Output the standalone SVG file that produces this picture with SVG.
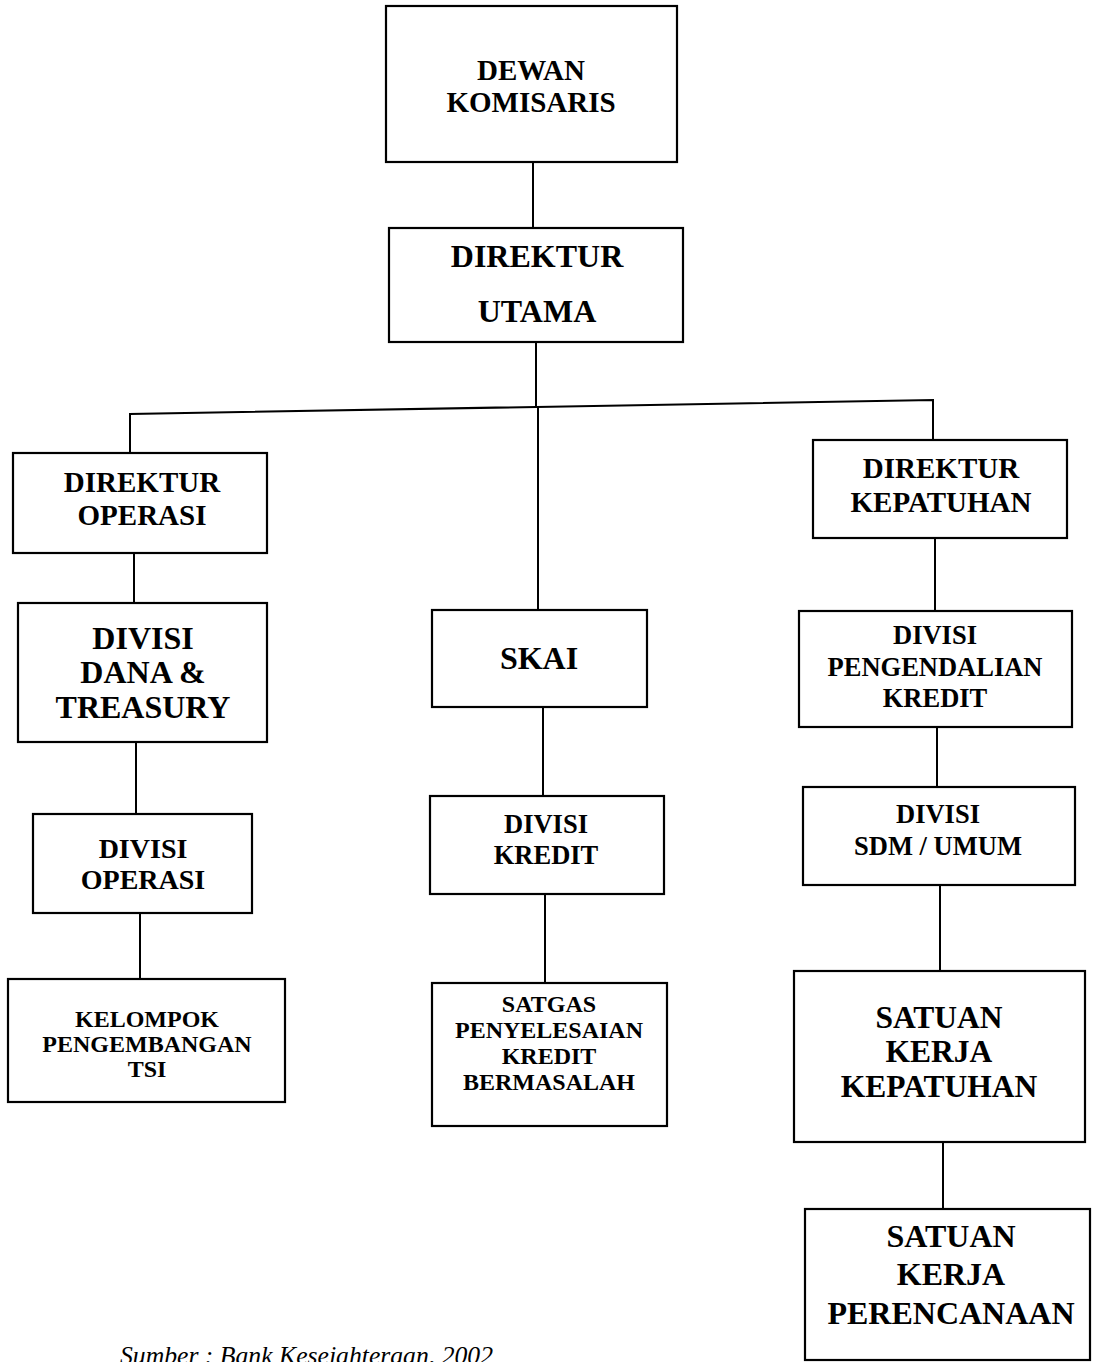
<svg xmlns="http://www.w3.org/2000/svg" width="1094" height="1362" viewBox="0 0 1094 1362">
<style>
.box{fill:#fff;stroke:#000;stroke-width:2.2}
.t{font-family:"Liberation Serif","Times New Roman",serif;font-weight:bold;text-anchor:middle;fill:#000}
.ln{fill:none;stroke:#000;stroke-width:2}
.cap{font-family:"Liberation Serif","Times New Roman",serif;font-style:italic;fill:#000}
</style>
<rect width="1094" height="1362" fill="#fff"/>
<g id="connectors">
<line class="ln" x1="533" y1="162" x2="533" y2="228"/>
<line class="ln" x1="536" y1="342" x2="536" y2="407"/>
<polyline class="ln" points="130,453 130,414 933,400 933,440"/>
<line class="ln" x1="538" y1="407" x2="538" y2="610"/>
<line class="ln" x1="134" y1="553" x2="134" y2="603"/>
<line class="ln" x1="136" y1="742" x2="136" y2="814"/>
<line class="ln" x1="140" y1="913" x2="140" y2="979"/>
<line class="ln" x1="543" y1="707" x2="543" y2="796"/>
<line class="ln" x1="545" y1="894" x2="545" y2="983"/>
<line class="ln" x1="935" y1="538" x2="935" y2="611"/>
<line class="ln" x1="937" y1="727" x2="937" y2="787"/>
<line class="ln" x1="940" y1="885" x2="940" y2="971"/>
<line class="ln" x1="943" y1="1142" x2="943" y2="1209"/>
</g>
<g id="dewan-komisaris">
<rect class="box" x="386" y="6" width="291" height="156"/>
<text class="t" font-size="29" x="531" y="80">DEWAN</text>
<text class="t" font-size="29" x="531" y="112">KOMISARIS</text>
</g>
<g id="direktur-utama">
<rect class="box" x="389" y="228" width="294" height="114"/>
<text class="t" font-size="32" x="537" y="267">DIREKTUR</text>
<text class="t" font-size="32" x="537" y="322">UTAMA</text>
</g>
<g id="direktur-operasi">
<rect class="box" x="13" y="453" width="254" height="100"/>
<text class="t" font-size="29" x="142" y="492">DIREKTUR</text>
<text class="t" font-size="29" x="142" y="525">OPERASI</text>
</g>
<g id="divisi-dana-treasury">
<rect class="box" x="18" y="603" width="249" height="139"/>
<text class="t" font-size="32" x="143" y="649">DIVISI</text>
<text class="t" font-size="32" x="143" y="683">DANA &amp;</text>
<text class="t" font-size="32" x="143" y="718">TREASURY</text>
</g>
<g id="divisi-operasi">
<rect class="box" x="33" y="814" width="219" height="99"/>
<text class="t" font-size="28" x="143" y="858">DIVISI</text>
<text class="t" font-size="28" x="143" y="889">OPERASI</text>
</g>
<g id="kelompok-pengembangan-tsi">
<rect class="box" x="8" y="979" width="277" height="123"/>
<text class="t" font-size="24" x="147" y="1027">KELOMPOK</text>
<text class="t" font-size="24" x="147" y="1052">PENGEMBANGAN</text>
<text class="t" font-size="24" x="147" y="1077">TSI</text>
</g>
<g id="skai">
<rect class="box" x="432" y="610" width="215" height="97"/>
<text class="t" font-size="32" x="539" y="669">SKAI</text>
</g>
<g id="divisi-kredit">
<rect class="box" x="430" y="796" width="234" height="98"/>
<text class="t" font-size="26.5" x="546" y="833">DIVISI</text>
<text class="t" font-size="26.5" x="546" y="864">KREDIT</text>
</g>
<g id="satgas">
<rect class="box" x="432" y="983" width="235" height="143"/>
<text class="t" font-size="24" x="549" y="1012">SATGAS</text>
<text class="t" font-size="24" x="549" y="1038">PENYELESAIAN</text>
<text class="t" font-size="24" x="549" y="1064">KREDIT</text>
<text class="t" font-size="24" x="549" y="1090">BERMASALAH</text>
</g>
<g id="direktur-kepatuhan">
<rect class="box" x="813" y="440" width="254" height="98"/>
<text class="t" font-size="29" x="941" y="478">DIREKTUR</text>
<text class="t" font-size="29" x="941" y="512">KEPATUHAN</text>
</g>
<g id="divisi-pengendalian-kredit">
<rect class="box" x="799" y="611" width="273" height="116"/>
<text class="t" font-size="26.5" x="935" y="644">DIVISI</text>
<text class="t" font-size="26.5" x="935" y="676">PENGENDALIAN</text>
<text class="t" font-size="26.5" x="935" y="707">KREDIT</text>
</g>
<g id="divisi-sdm-umum">
<rect class="box" x="803" y="787" width="272" height="98"/>
<text class="t" font-size="26.5" x="938" y="823">DIVISI</text>
<text class="t" font-size="26.5" x="938" y="855">SDM / UMUM</text>
</g>
<g id="satuan-kerja-kepatuhan">
<rect class="box" x="794" y="971" width="291" height="171"/>
<text class="t" font-size="31.5" x="939" y="1028">SATUAN</text>
<text class="t" font-size="31.5" x="939" y="1062">KERJA</text>
<text class="t" font-size="31.5" x="939" y="1097">KEPATUHAN</text>
</g>
<g id="satuan-kerja-perencanaan">
<rect class="box" x="805" y="1209" width="285" height="151"/>
<text class="t" font-size="32" x="951" y="1247">SATUAN</text>
<text class="t" font-size="32" x="951" y="1285">KERJA</text>
<text class="t" font-size="32" x="951" y="1324">PERENCANAAN</text>
</g>
<text class="cap" font-size="25" x="120" y="1364" textLength="373" lengthAdjust="spacingAndGlyphs">Sumber : Bank Kesejahteraan, 2002</text>
</svg>
